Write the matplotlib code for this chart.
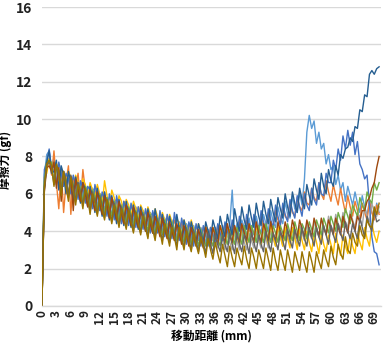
import numpy as np
import matplotlib
matplotlib.use('Agg')
import matplotlib.pyplot as plt

plt.rcParams['font.family'] = ['Noto Sans CJK JP', 'DejaVu Sans']

# distance in mm, sampled every 0.5 mm
distance = np.arange(0, 70.01, 0.5)

# friction force (gf) for each run
run1 = [0, 7.0, 8.1, 8.3, 7.4, 7.9, 6.6, 7.3, 7.1, 6.4,
        7.0, 6.9, 6.1, 6.8, 6.0, 6.6, 6.5, 5.7, 6.4, 6.2,
        5.5, 6.3, 6.1, 5.3, 6.0, 5.9, 5.1, 5.8, 5.4, 4.9,
        5.7, 5.6, 4.7, 5.3, 5.5, 4.6, 5.2, 4.9, 4.5, 5.3,
        4.9, 4.3, 5.1, 4.6, 4.3, 5.0, 4.8, 4.0, 4.7, 4.6,
        3.9, 4.7, 4.4, 3.8, 4.6, 4.1, 3.7, 4.5, 4.2, 3.6,
        4.4, 4.1, 3.5, 4.3, 3.9, 3.5, 4.2, 3.8, 3.4, 4.1,
        3.7, 3.5, 4.2, 3.9, 3.5, 4.3, 3.8, 3.7, 4.4, 6.2,
        3.9, 4.4, 3.6, 4.6, 4.2, 3.7, 4.7, 4.0, 3.8, 4.8,
        4.2, 3.9, 4.9, 4.4, 4.0, 5.1, 4.5, 4.2, 5.3, 4.7,
        4.4, 5.6, 4.9, 4.7, 5.9, 5.2, 5.0, 6.1, 5.4, 6.8,
        9.3, 10.2, 9.5, 9.9, 8.7, 9.3, 8.4, 8.7, 7.6, 8.1,
        7.3, 7.5, 6.5, 7.0, 6.2, 6.6, 5.6, 6.4, 5.9, 5.4,
        6.1, 5.5, 5.0, 5.9, 5.3, 4.8, 5.7, 5.0, 4.7, 5.5,
        5.0]
run2 = [0, 6.3, 7.6, 7.8, 7.0, 8.3, 6.6, 5.2, 7.3, 5.0,
        6.6, 7.5, 4.9, 6.9, 6.3, 7.1, 5.6, 7.3, 6.2, 5.7,
        6.5, 5.6, 6.0, 6.4, 5.2, 5.9, 6.1, 5.0, 5.8, 5.5,
        4.9, 5.7, 5.3, 4.7, 5.6, 5.2, 4.6, 5.4, 5.0, 4.5,
        5.3, 4.9, 4.3, 5.1, 4.7, 4.2, 5.0, 4.6, 4.1, 4.8,
        4.5, 3.9, 4.8, 4.3, 3.8, 4.6, 4.2, 3.7, 4.5, 4.0,
        3.6, 4.4, 4.0, 3.5, 4.3, 3.9, 3.4, 4.2, 3.8, 3.5,
        4.2, 3.7, 3.4, 4.3, 3.8, 3.5, 4.4, 3.9, 3.6, 4.4,
        3.9, 3.6, 4.5, 4.0, 3.7, 4.6, 4.1, 3.8, 4.7, 4.2,
        3.9, 4.8, 4.3, 4.1, 5.0, 4.5, 4.2, 5.1, 4.6, 4.4,
        5.3, 4.8, 4.6, 5.6, 5.0, 4.8, 5.8, 5.3, 5.1, 6.1,
        5.5, 5.4, 6.3, 5.8, 5.6, 6.6, 6.0, 5.7, 6.7, 6.1,
        5.6, 6.5, 5.9, 5.4, 6.3, 5.6, 5.0, 5.9, 5.3, 4.8,
        5.6, 5.1, 4.6, 5.5, 5.0, 4.6, 5.6, 5.0, 4.6, 5.4,
        4.9]
run3 = [0, 6.4, 7.7, 7.9, 7.1, 7.3, 7.6, 6.3, 7.2, 6.9,
        6.2, 6.9, 6.6, 5.8, 6.7, 6.4, 5.6, 6.5, 6.1, 5.4,
        6.2, 5.9, 5.2, 6.0, 5.6, 5.0, 5.8, 5.4, 4.8, 5.6,
        5.3, 4.6, 5.4, 5.1, 4.5, 5.3, 4.9, 4.4, 5.1, 4.8,
        4.2, 5.0, 4.6, 4.1, 4.8, 4.5, 3.9, 4.7, 4.3, 3.8,
        4.6, 4.2, 3.6, 4.4, 4.0, 3.5, 4.3, 3.9, 3.4, 4.2,
        3.8, 3.3, 4.1, 3.7, 3.2, 4.0, 3.6, 3.2, 4.0, 3.5,
        3.1, 3.9, 3.5, 3.1, 4.0, 3.5, 3.0, 3.9, 3.4, 3.0,
        3.9, 3.5, 3.0, 4.0, 3.4, 3.0, 3.9, 3.5, 3.1, 4.0,
        3.5, 3.1, 4.1, 3.6, 3.1, 4.0, 3.6, 3.2, 4.2, 3.7,
        3.2, 4.1, 3.7, 3.3, 4.2, 3.8, 3.3, 4.3, 3.9, 3.5,
        4.4, 3.9, 3.6, 4.5, 4.1, 3.7, 4.6, 4.2, 3.9, 4.8,
        4.3, 4.0, 4.9, 4.4, 4.1, 5.0, 4.5, 4.2, 5.1, 4.6,
        4.2, 5.0, 4.7, 4.3, 5.3, 4.8, 4.5, 5.5, 5.0, 4.8,
        5.3]
run4 = [0, 6.9, 7.1, 7.9, 7.3, 7.3, 7.6, 6.5, 7.4, 7.0,
        6.4, 7.2, 6.9, 6.1, 7.0, 6.6, 6.0, 6.8, 6.5, 5.8,
        6.6, 6.2, 5.6, 6.5, 6.0, 5.4, 6.7, 5.9, 5.3, 6.2,
        5.8, 5.1, 5.9, 5.6, 4.9, 5.7, 5.4, 4.8, 5.6, 5.2,
        4.6, 5.4, 5.1, 4.5, 5.3, 4.9, 4.3, 5.2, 4.8, 4.2,
        5.0, 4.6, 4.0, 4.9, 4.5, 3.9, 4.7, 4.4, 3.8, 4.6,
        4.2, 3.7, 4.6, 4.1, 3.6, 4.4, 4.0, 3.5, 4.3, 3.9,
        3.4, 4.2, 3.8, 3.4, 4.3, 3.8, 3.3, 4.2, 3.8, 3.3,
        4.2, 3.7, 3.3, 4.3, 3.8, 3.3, 4.4, 3.8, 3.4, 4.3,
        3.7, 3.3, 4.3, 3.8, 3.3, 4.4, 3.7, 3.2, 4.3, 3.7,
        3.2, 4.2, 3.6, 3.1, 4.2, 3.6, 3.0, 4.1, 3.5, 3.0,
        4.0, 3.4, 2.9, 3.9, 3.4, 2.8, 3.9, 3.3, 2.9, 3.8,
        3.3, 2.8, 3.9, 3.2, 2.7, 3.8, 3.2, 2.8, 3.8, 3.2,
        2.8, 3.9, 3.4, 3.0, 4.2, 3.6, 3.2, 4.4, 3.8, 3.4,
        4.0]
run5 = [0, 7.3, 7.7, 8.4, 7.3, 7.5, 6.5, 7.7, 7.1, 6.4,
        7.1, 6.8, 6.0, 7.0, 6.5, 5.7, 6.7, 6.3, 5.5, 6.4,
        6.2, 5.2, 6.5, 5.9, 5.1, 6.1, 5.7, 4.8, 6.0, 5.5,
        4.6, 5.9, 5.2, 4.4, 5.6, 5.1, 4.3, 5.5, 4.9, 4.2,
        5.3, 4.7, 4.1, 5.2, 4.6, 3.9, 5.1, 4.5, 3.9, 5.1,
        4.4, 3.7, 4.9, 4.3, 3.6, 5.0, 4.2, 3.5, 4.7, 4.1,
        3.3, 4.5, 4.0, 3.2, 4.4, 3.9, 3.2, 4.3, 3.8, 3.2,
        4.2, 3.8, 3.4, 4.4, 3.9, 3.5, 4.5, 4.0, 3.6, 4.6,
        4.1, 3.7, 4.8, 4.2, 3.8, 4.9, 4.3, 3.8, 4.9, 4.4,
        3.9, 5.1, 4.5, 4.0, 5.2, 4.6, 4.2, 5.4, 4.8, 4.3,
        5.5, 4.9, 4.5, 5.7, 5.1, 4.7, 5.9, 5.3, 4.8, 6.0,
        5.4, 5.1, 6.3, 5.7, 5.4, 6.6, 6.0, 5.9, 7.1, 6.6,
        6.6, 7.8, 7.3, 8.4, 7.8, 9.1, 8.4, 9.4, 8.6, 9.3,
        8.1, 8.8, 7.6, 7.3, 6.8, 7.0, 5.4, 3.7, 2.9, 2.8,
        2.2]
run6 = [0, 6.6, 7.8, 7.7, 7.7, 6.6, 7.5, 7.2, 6.4, 7.1,
        6.8, 6.0, 6.9, 6.5, 5.8, 6.6, 6.3, 5.6, 6.4, 6.0,
        5.3, 6.2, 5.9, 5.1, 6.0, 5.6, 5.0, 5.8, 5.4, 4.8,
        5.6, 5.2, 4.6, 5.4, 5.0, 4.5, 5.3, 4.9, 4.3, 5.1,
        4.7, 4.1, 5.0, 4.6, 4.0, 4.9, 4.4, 3.9, 4.7, 4.3,
        3.8, 4.6, 4.1, 3.6, 4.5, 4.0, 3.5, 4.3, 3.9, 3.4,
        4.2, 3.8, 3.3, 4.1, 3.7, 3.2, 4.1, 3.6, 3.2, 4.0,
        3.6, 3.2, 4.1, 3.6, 3.2, 4.1, 3.7, 3.3, 4.1, 3.7,
        3.3, 4.2, 3.7, 3.3, 4.3, 3.8, 3.4, 4.3, 3.9, 3.4,
        4.3, 3.8, 3.4, 4.4, 3.9, 3.4, 4.3, 3.9, 3.4, 4.3,
        3.9, 3.5, 4.4, 3.9, 3.5, 4.5, 4.0, 3.5, 4.4, 4.1,
        3.6, 4.5, 4.1, 3.7, 4.6, 4.2, 3.8, 4.7, 4.3, 3.9,
        4.8, 4.4, 4.0, 5.0, 4.6, 4.2, 5.2, 4.8, 4.4, 5.4,
        5.1, 4.8, 5.8, 5.4, 5.1, 6.1, 5.7, 5.5, 6.6, 6.2,
        6.6]
run7 = [0, 6.2, 7.7, 8.3, 7.1, 7.2, 7.8, 6.2, 7.5, 7.0,
        6.0, 7.2, 6.6, 5.6, 6.9, 6.3, 5.5, 6.6, 6.2, 5.3,
        6.4, 5.8, 5.0, 6.3, 5.5, 4.8, 6.1, 5.4, 4.6, 5.9,
        5.2, 4.4, 5.7, 5.0, 4.3, 5.6, 4.9, 4.2, 5.4, 4.8,
        4.1, 5.3, 4.7, 4.0, 5.2, 4.5, 3.9, 5.2, 4.4, 3.8,
        4.9, 4.3, 3.7, 4.8, 4.2, 3.6, 4.9, 4.1, 3.5, 4.6,
        4.0, 3.4, 4.5, 3.9, 3.3, 4.4, 3.9, 3.4, 4.5, 4.0,
        3.5, 4.6, 4.1, 3.6, 4.8, 4.2, 3.7, 4.9, 4.3, 3.8,
        5.2, 4.5, 4.0, 5.3, 4.6, 4.1, 5.4, 4.7, 4.2, 5.5,
        4.8, 4.3, 5.6, 4.9, 4.4, 5.7, 5.0, 4.5, 5.8, 5.2,
        4.7, 6.0, 5.3, 4.8, 6.1, 5.5, 5.0, 6.3, 5.7, 5.2,
        6.5, 5.9, 5.4, 6.8, 6.2, 5.7, 7.1, 6.4, 6.0, 7.3,
        6.7, 6.4, 7.5, 7.0, 8.1, 7.9, 8.4, 8.5, 9.0, 8.8,
        9.6, 9.5, 10.5, 10.4, 11.3, 11.2, 12.4, 12.6, 12.4, 12.7,
        12.8]
run8 = [0, 6.1, 7.4, 7.5, 7.2, 7.7, 6.3, 7.4, 5.6, 7.2,
        6.6, 5.9, 6.9, 5.1, 6.8, 6.2, 5.6, 6.6, 6.0, 5.3,
        6.2, 5.7, 5.1, 6.1, 5.5, 4.9, 5.9, 5.4, 4.7, 5.8,
        5.2, 4.6, 5.6, 5.0, 4.4, 5.4, 4.9, 4.3, 5.3, 4.7,
        4.2, 5.1, 4.6, 4.0, 5.0, 4.4, 3.9, 4.8, 4.3, 3.7,
        4.7, 4.1, 3.6, 4.5, 4.0, 3.5, 4.4, 3.9, 3.3, 4.3,
        3.8, 3.2, 4.2, 3.7, 3.2, 4.1, 3.6, 3.1, 4.2, 3.7,
        3.2, 4.2, 3.7, 3.3, 4.3, 3.8, 3.4, 4.4, 3.8, 3.4,
        4.3, 3.8, 3.4, 4.4, 3.9, 3.5, 4.4, 3.9, 3.4, 4.5,
        3.9, 3.4, 4.4, 4.0, 3.5, 4.5, 3.9, 3.5, 4.5, 4.0,
        3.6, 4.5, 4.0, 3.6, 4.6, 4.1, 3.6, 4.6, 4.1, 3.7,
        4.6, 4.1, 3.7, 4.7, 4.2, 3.7, 4.7, 4.2, 3.8, 4.6,
        4.2, 3.8, 4.7, 4.2, 3.8, 4.8, 4.3, 3.9, 4.9, 4.5,
        4.0, 4.8, 4.5, 5.1, 5.1, 5.6, 5.8, 6.3, 6.6, 7.4,
        8.0]
run9 = [0, 6.3, 7.5, 7.7, 7.4, 6.5, 7.5, 7.0, 6.1, 7.2,
        6.7, 5.8, 7.0, 6.4, 5.6, 6.6, 6.1, 5.4, 6.2, 5.9,
        5.0, 6.1, 5.6, 4.9, 5.9, 5.4, 4.7, 5.7, 5.2, 4.5,
        5.5, 5.0, 4.3, 5.3, 4.8, 4.2, 5.2, 4.7, 4.0, 5.0,
        4.5, 3.9, 4.9, 4.4, 3.7, 4.8, 4.2, 3.7, 4.6, 4.1,
        3.5, 4.4, 3.9, 3.4, 4.3, 3.8, 3.2, 4.2, 3.7, 3.1,
        4.1, 3.6, 3.0, 4.0, 3.5, 2.9, 3.9, 3.4, 2.8, 3.9,
        3.3, 2.8, 3.9, 3.3, 2.9, 3.8, 3.3, 2.9, 3.9, 3.3,
        2.8, 3.9, 3.3, 2.9, 3.8, 3.4, 2.8, 3.9, 3.4, 2.9,
        3.8, 3.3, 2.9, 4.0, 3.4, 2.9, 3.9, 3.5, 3.0, 4.0,
        3.5, 3.0, 4.1, 3.5, 3.1, 4.1, 3.6, 3.2, 4.2, 3.6,
        3.2, 4.2, 3.7, 3.2, 4.2, 3.7, 3.3, 4.3, 3.8, 3.3,
        4.3, 3.8, 3.4, 4.4, 3.9, 3.5, 4.5, 4.0, 3.6, 4.4,
        4.0, 3.6, 4.7, 4.2, 3.7, 4.8, 4.3, 4.0, 5.1, 4.5,
        4.6]
run10 = [0, 6.4, 7.6, 7.8, 7.5, 6.4, 7.6, 7.1, 5.9, 7.2,
         6.4, 5.6, 6.9, 6.2, 5.4, 6.5, 6.0, 5.2, 6.3, 5.8,
         4.9, 6.0, 5.5, 4.8, 5.8, 5.2, 4.6, 5.7, 5.1, 4.4,
         5.4, 4.9, 4.2, 5.2, 4.7, 4.1, 5.1, 4.5, 3.9, 5.0,
         4.4, 3.8, 4.8, 4.2, 3.6, 4.7, 4.1, 3.5, 4.5, 4.0,
         3.3, 4.4, 3.8, 3.2, 4.2, 3.7, 3.0, 4.2, 3.6, 3.0,
         4.0, 3.4, 2.9, 3.9, 3.3, 2.8, 3.7, 3.2, 2.6, 3.6,
         3.0, 2.5, 3.4, 2.8, 2.3, 3.3, 2.7, 2.1, 3.2, 2.6,
         2.1, 3.1, 2.6, 2.2, 3.2, 2.5, 2.0, 3.1, 2.6, 2.0,
         3.0, 2.5, 2.0, 3.1, 2.5, 1.9, 3.1, 2.4, 1.9, 3.0,
         2.4, 1.9, 3.0, 2.4, 1.8, 2.9, 2.4, 1.9, 2.9, 2.3,
         1.8, 2.9, 2.4, 1.8, 2.9, 2.4, 2.0, 3.0, 2.5, 2.1,
         3.2, 2.6, 2.2, 3.3, 2.8, 2.5, 3.7, 3.0, 2.8, 3.9,
         3.4, 3.2, 4.3, 3.8, 3.6, 4.6, 4.3, 4.2, 5.3, 4.9,
         5.5]

runs = [run1, run2, run3, run4, run5, run6, run7, run8, run9, run10]
colors = ['#5B9BD5', '#ED7D31', '#A5A5A5', '#FFC000', '#4472C4',
          '#70AD47', '#255E91', '#9E480E', '#636363', '#997300']

fig = plt.figure(figsize=(3.92, 3.52), dpi=100)
ax = fig.add_axes([0.107, 0.131, 0.865, 0.849])

for vals, c in zip(runs, colors):
    ax.plot(distance, vals, color=c, linewidth=1.0)

ax.set_xlim(0, 70.4)
ax.set_ylim(0, 16)
ax.set_yticks(np.arange(0, 17, 2))
ax.set_xticks(np.arange(0, 70, 3))
ax.tick_params(axis='x', labelrotation=90, labelsize=8.5, length=0, pad=3, colors='#222222')
ax.tick_params(axis='y', labelsize=10, length=0, pad=7, colors='#222222')
for lab in ax.get_xticklabels() + ax.get_yticklabels():
    lab.set_fontweight('bold')

ax.grid(axis='y', color='#D9D9D9', linewidth=1)
ax.set_axisbelow(True)
for side in ['top', 'right', 'left']:
    ax.spines[side].set_visible(False)
ax.spines['bottom'].set_color('#D9D9D9')
ax.spines['bottom'].set_linewidth(1)

ax.set_xlabel('移動距離 (mm)', fontsize=8.5, fontweight='bold', labelpad=4)
ax.set_ylabel('摩擦力 (gf)', fontsize=8.5, fontweight='bold')
ax.yaxis.set_label_coords(-0.088, 0.49)

fig.savefig('out.png', dpi=100)
